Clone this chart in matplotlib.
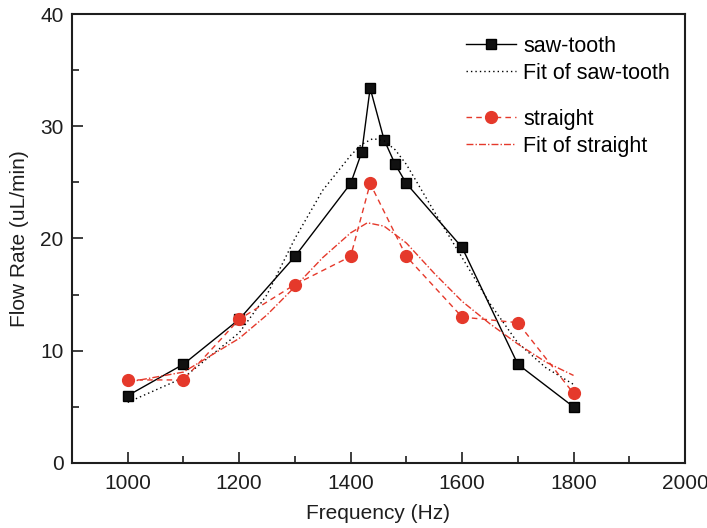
import matplotlib
matplotlib.use("Agg")
import matplotlib.pyplot as plt
from matplotlib.ticker import MultipleLocator

plt.rcParams['font.family'] = ['Liberation Sans', 'DejaVu Sans']

# data
saw_x = [1000, 1100, 1200, 1300, 1400, 1420, 1435, 1460, 1480, 1500, 1600, 1700, 1800]
saw_y = [6.0, 8.8, 12.8, 18.4, 24.9, 27.7, 33.4, 28.8, 26.6, 24.9, 19.2, 8.8, 5.0]

str_x = [1000, 1100, 1200, 1300, 1400, 1435, 1500, 1600, 1700, 1800]
str_y = [7.4, 7.4, 12.8, 15.9, 18.4, 24.9, 18.4, 13.0, 12.5, 6.2]

fit_saw_x = [1000, 1100, 1200, 1250, 1300, 1350, 1400, 1420, 1440, 1460, 1480, 1500,
             1550, 1600, 1650, 1700, 1750, 1800]
fit_saw_y = [5.4, 7.6, 11.6, 15.0, 20.0, 24.3, 27.4, 28.4, 28.9, 28.7, 27.9, 26.6,
             22.4, 18.3, 14.2, 10.7, 8.5, 7.0]

fit_str_x = [1000, 1100, 1200, 1250, 1300, 1350, 1400, 1430, 1460, 1500, 1550, 1600,
             1650, 1700, 1750, 1800]
fit_str_y = [7.2, 8.1, 11.1, 13.2, 15.7, 18.3, 20.5, 21.4, 21.1, 19.6, 16.9, 14.4,
             12.4, 10.6, 9.0, 7.8]

labels = ["saw-tooth", "Fit of saw-tooth", "straight", "Fit of straight"]

RED = '#e5392b'
INK = '#1e1e1e'
FS = 15

fig = plt.figure(figsize=(7.07, 5.28), dpi=100)
ax = fig.add_axes([72/707, 1-463/528, (685-72)/707, (463-14)/528])

l1, = ax.plot(saw_x, saw_y, color='black', lw=1.0, marker='s', ms=7.5,
              mec='black', mfc='#111111', label=labels[0])
l2, = ax.plot(fit_saw_x, fit_saw_y, color='black', lw=1.0, ls=(0, (1, 2.2)),
              label=labels[1])
l3, = ax.plot(str_x, str_y, color=RED, lw=1.0, ls=(0, (4, 3)), marker='o', ms=8.5,
              mec=RED, mfc=RED, label=labels[2])
l4, = ax.plot(fit_str_x, fit_str_y, color=RED, lw=1.0, ls=(0, (5, 1.5, 1, 1.5)),
              label=labels[3])

ax.set_xlim(900, 2000)
ax.set_ylim(0, 40)
ax.xaxis.set_major_locator(MultipleLocator(200))
ax.xaxis.set_minor_locator(MultipleLocator(100))
ax.yaxis.set_major_locator(MultipleLocator(10))
ax.yaxis.set_minor_locator(MultipleLocator(5))
ax.tick_params(which='both', direction='in', top=False, right=False, labelsize=FS,
               width=1.2, colors=INK)
ax.tick_params(axis='x', which='major', length=8, pad=8)
ax.tick_params(axis='y', which='major', length=8, pad=6)
ax.tick_params(which='minor', length=5)
for s in ax.spines.values():
    s.set_linewidth(1.5)
    s.set_color(INK)

ax.set_xlabel('Frequency (Hz)', fontsize=FS, labelpad=8, color=INK)
ax.set_ylabel('Flow Rate (uL/min)', fontsize=FS, labelpad=8, color=INK)

common = dict(loc='upper left', bbox_transform=fig.transFigure, frameon=False,
              fontsize=15.5, numpoints=1, handlelength=2.3, handletextpad=0.36,
              labelspacing=0.28, borderpad=0, borderaxespad=0)
leg1 = ax.legend(handles=[l1, l2], bbox_to_anchor=(466/707, 1-36/528), **common)
ax.add_artist(leg1)
leg2 = ax.legend(handles=[l3, l4], bbox_to_anchor=(466/707, 1-109/528), **common)

fig.savefig('out.png', dpi=100)
